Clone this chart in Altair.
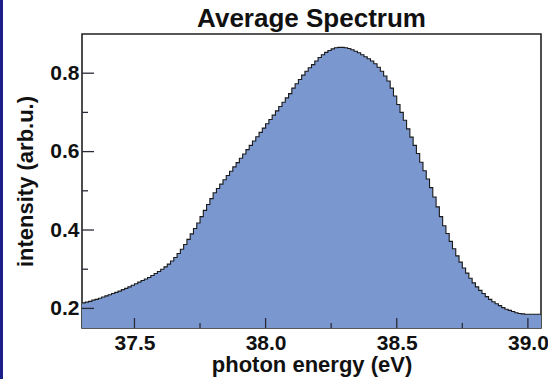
import altair as alt
import pandas as pd

# Histogram (bin width 0.0125 eV starting at 37.3 eV)
bin_start = 37.3
bin_width = 0.0125
intensity = [
    0.214, 0.216, 0.218, 0.221, 0.223, 0.226, 0.229, 0.232, 0.235, 0.238, 0.241, 0.244, 0.248, 0.251, 0.255, 0.259,
    0.263, 0.267, 0.271, 0.275, 0.279, 0.284, 0.289, 0.294,
    0.300, 0.306, 0.313, 0.321, 0.330, 0.340, 0.351, 0.363,
    0.376, 0.390, 0.404, 0.418, 0.434, 0.450, 0.465, 0.480,
    0.495, 0.506, 0.517, 0.528, 0.539, 0.550, 0.561, 0.572,
    0.583, 0.594, 0.605, 0.616, 0.627, 0.638, 0.649, 0.660,
    0.671, 0.682, 0.693, 0.704, 0.715, 0.726, 0.737, 0.748,
    0.762, 0.773, 0.784, 0.795, 0.805, 0.814, 0.822, 0.831,
    0.840, 0.847, 0.853, 0.858, 0.862, 0.865, 0.866, 0.866,
    0.865, 0.863, 0.860, 0.856, 0.852, 0.847, 0.842, 0.837,
    0.831, 0.824, 0.815, 0.805, 0.793, 0.780, 0.762, 0.742,
    0.720, 0.700, 0.680, 0.658, 0.637, 0.616, 0.595, 0.573,
    0.551, 0.530, 0.508, 0.484, 0.459, 0.434, 0.411, 0.391,
    0.371, 0.352, 0.334, 0.318, 0.303, 0.290, 0.277, 0.265,
    0.255, 0.246, 0.238, 0.230, 0.223, 0.217, 0.212, 0.207,
    0.202, 0.198, 0.195, 0.192, 0.189, 0.187, 0.186, 0.185,
    0.185, 0.185, 0.185, 0.185,
]
x_major = [37.5, 38.0, 38.5, 39.0]
x_minor = [37.75, 38.25, 38.75]
y_major = [0.2, 0.4, 0.6, 0.8]
y_minor = [0.3, 0.5, 0.7]
x_domain = [37.3, 39.05]
y_domain = [0.15, 0.9]
title_text = "Average Spectrum"

energies = [round(bin_start + i * bin_width, 4) for i in range(len(intensity))]
# closing edge so the last bin is drawn
df = pd.DataFrame({"E": energies + [round(bin_start + len(intensity) * bin_width, 4)],
                   "I": intensity + [intensity[-1]]})

W, H = 459, 294
FONT = "Liberation Sans"

xs = alt.Scale(domain=x_domain, nice=False, zero=False)
ys = alt.Scale(domain=y_domain, nice=False, zero=False)

area = alt.Chart(df).mark_area(interpolate="step-after", color="#7a97d0", clip=True).encode(
    x=alt.X("E:Q", scale=xs, title="photon energy (eV)",
            axis=alt.Axis(values=x_major, format=".1f", ticks=False, tickSize=0, domain=False,
                          grid=False, labelPadding=4, titleY=43, titleBaseline="alphabetic")),
    y=alt.Y("I:Q", scale=ys, title="intensity (arb.u.)",
            axis=alt.Axis(values=y_major, format=".1f", ticks=False, tickSize=0, domain=False,
                          grid=False, labelPadding=3, titleX=-50, titleBaseline="alphabetic")),
)
line = alt.Chart(df).mark_line(interpolate="step-after", color="#1a1a1a", strokeWidth=1.1, clip=True).encode(
    x=alt.X("E:Q", scale=xs), y=alt.Y("I:Q", scale=ys)
)

tcol = "#2a2a3a"
xmaj = alt.Chart(pd.DataFrame({"v": x_major})).mark_rule(color=tcol, strokeWidth=1.3).encode(
    x=alt.X("v:Q", scale=xs), y=alt.value(H), y2=alt.value(H - 10))
xmin = alt.Chart(pd.DataFrame({"v": x_minor})).mark_rule(color=tcol, strokeWidth=1.3).encode(
    x=alt.X("v:Q", scale=xs), y=alt.value(H), y2=alt.value(H - 5))
ymaj = alt.Chart(pd.DataFrame({"v": y_major})).mark_rule(color=tcol, strokeWidth=1.3).encode(
    y=alt.Y("v:Q", scale=ys), x=alt.value(0), x2=alt.value(12))
ymin = alt.Chart(pd.DataFrame({"v": y_minor})).mark_rule(color=tcol, strokeWidth=1.3).encode(
    y=alt.Y("v:Q", scale=ys), x=alt.value(0), x2=alt.value(6))

border = alt.Chart(pd.DataFrame({"d": [0]})).mark_rule(color="#1c1f8a", strokeWidth=3).encode(
    x=alt.value(-80.5), y=alt.value(-40), y2=alt.value(H + 60))

title = alt.Chart(pd.DataFrame({"t": [title_text]})).mark_text(
    font=FONT, fontSize=26, fontWeight="bold", color="#111111",
    align="center", baseline="alphabetic"
).encode(text="t:N", x=alt.value(W / 2), y=alt.value(-7.5))

chart = alt.layer(area, line, xmaj, xmin, ymaj, ymin, border, title).properties(
    width=W, height=H,
    background="white",
    autosize=alt.AutoSizeParams(type="none"),
    padding={"left": 82, "top": 34, "right": 7, "bottom": 51},
).configure_view(
    stroke="#222222", strokeWidth=1.6
).configure_axis(
    labelFont=FONT, labelFontSize=21, labelFontWeight="bold", labelColor="#111111",
    titleFont=FONT, titleFontSize=22, titleFontWeight="bold", titleColor="#111111",
)

chart.save("out.html", embed_options={"renderer": "svg", "actions": False})
